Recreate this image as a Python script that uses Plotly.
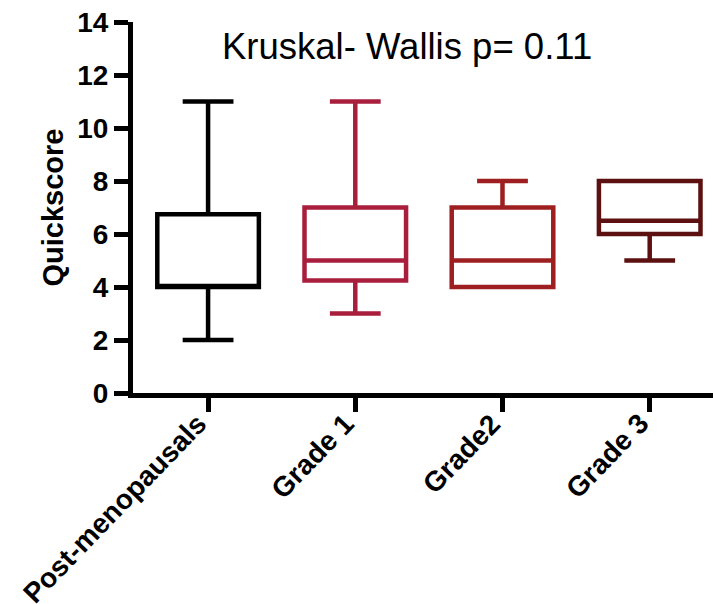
import plotly.graph_objects as go

# Quickscore summary per group (box = Q1/median/Q3, whiskers = min/max)
groups = ["Post-menopausals", "Grade 1", "Grade2", "Grade 3"]
q_min = [2, 3, 4, 5]
q1 = [4, 4.25, 4, 6]
median = [4, 5, 5, 6.5]
q3 = [6.75, 7, 7, 8]
q_max = [11, 11, 8, 8]
colors = ["#000000", "#A81E3C", "#9E1F1F", "#5C1010"]

FONT = "Liberation Sans, Arial"
PLOT_H = 371  # plot-area height in px (22..393)

fig = go.Figure()
for i, g in enumerate(groups):
    fig.add_trace(go.Box(
        x=[g],
        q1=[q1[i]], median=[median[i]], q3=[q3[i]],
        lowerfence=[q_min[i]], upperfence=[q_max[i]],
        name=g,
        width=0.69,
        whiskerwidth=0.5,
        line=dict(color=colors[i], width=4.5),
        fillcolor="rgba(255,255,255,0)",
        boxpoints=False,
        hoverinfo="skip",
        showlegend=False,
    ))

# Slanted category labels, top-right corner tucked under each tick
for g in groups:
    fig.add_annotation(
        text=g, x=g, xref="x",
        y=-12 / PLOT_H, yref="paper",
        xanchor="right", yanchor="top", xshift=7,
        textangle=-46, showarrow=False,
        font=dict(family=FONT, size=28, color="#000000", weight="bold"),
    )

fig.add_annotation(
    text="Kruskal- Wallis p= 0.11",
    x=(407 - 133) / 580, y=(393 - 47) / PLOT_H,
    xref="paper", yref="paper",
    xanchor="center", yanchor="middle",
    showarrow=False,
    font=dict(family=FONT, size=36.5, color="#000000"),
)

fig.update_layout(
    width=713, height=604,
    margin=dict(l=133, r=0, t=22, b=211),
    plot_bgcolor="white", paper_bgcolor="white",
    boxmode="overlay",
    font=dict(family=FONT, color="#000000"),
    xaxis=dict(
        type="category",
        categoryorder="array", categoryarray=groups,
        range=[-0.51, 3.43],
        automargin=False,
        showgrid=False, zeroline=False,
        showline=True, linecolor="#000000", linewidth=5,
        ticks="outside", ticklen=14, tickwidth=5, tickcolor="#000000",
        showticklabels=False,
    ),
    yaxis=dict(
        range=[0, 14],
        tickvals=[0, 2, 4, 6, 8, 10, 12, 14],
        automargin=False,
        showgrid=False, zeroline=False,
        showline=True, linecolor="#000000", linewidth=5,
        ticks="outside", ticklen=14, tickwidth=5, tickcolor="#000000",
        tickfont=dict(family=FONT, size=28, color="#000000", weight="bold"),
        title=dict(text="Quickscore", standoff=7,
                   font=dict(family=FONT, size=29, color="#000000", weight="bold")),
    ),
)

fig.write_html("out.html")
